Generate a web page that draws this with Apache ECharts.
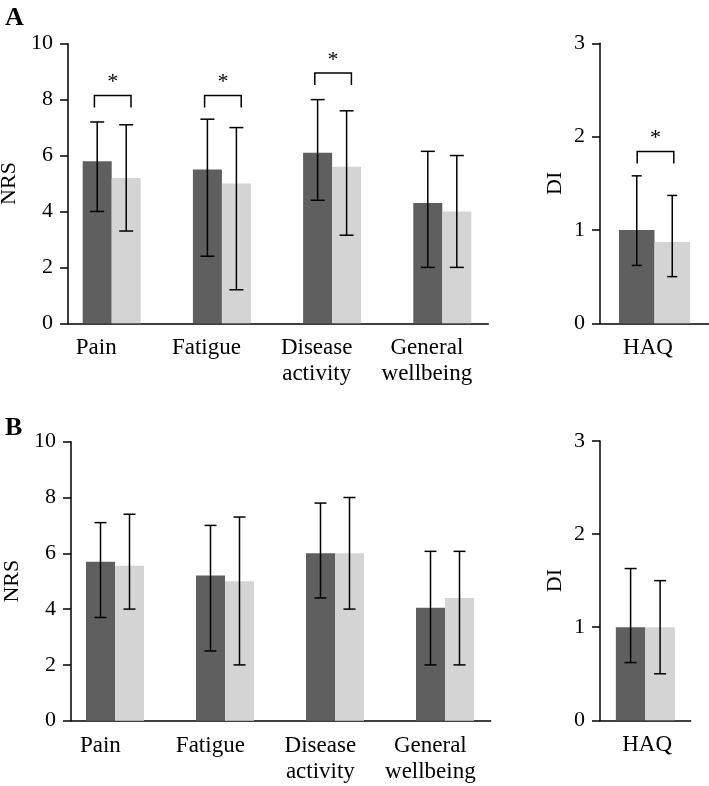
<!DOCTYPE html>
<html>
<head>
<meta charset="utf-8">
<script src="https://cdn.jsdelivr.net/npm/echarts@6/dist/echarts.min.js"></script>
<style>
html,body{margin:0;padding:0;background:#fff;}
#chart{width:709px;height:786px;}
</style>
</head>
<body>
<div id="chart"></div>
<script>
// ---- data ----
const categories = ['Pain', 'Fatigue', 'Disease\nactivity', 'General\nwellbeing'];
const haqCategories = ['HAQ'];
const nrsTicks = [0, 2, 4, 6, 8, 10];
const diTicks = [0, 1, 2, 3];

// Panel A
const aDarkMean  = [5.8, 5.5, 6.1, 4.3];
const aDarkLow   = [4.0, 2.4, 4.4, 2.0];
const aDarkHigh  = [7.2, 7.3, 8.0, 6.15];
const aLightMean = [5.2, 5.0, 5.6, 4.0];
const aLightLow  = [3.3, 1.2, 3.15, 2.0];
const aLightHigh = [7.1, 7.0, 7.6, 6.0];
const aSigLevel  = [8.15, 8.15, 8.95, null];

const aHaqDarkMean  = [1.0];
const aHaqDarkLow   = [0.62];
const aHaqDarkHigh  = [1.58];
const aHaqLightMean = [0.87];
const aHaqLightLow  = [0.5];
const aHaqLightHigh = [1.37];
const aHaqSigLevel  = [1.84];

// Panel B
const bDarkMean  = [5.7, 5.2, 6.0, 4.05];
const bDarkLow   = [3.7, 2.5, 4.4, 2.0];
const bDarkHigh  = [7.1, 7.0, 7.8, 6.07];
const bLightMean = [5.55, 5.0, 6.0, 4.4];
const bLightLow  = [4.0, 2.0, 4.0, 2.0];
const bLightHigh = [7.4, 7.3, 8.0, 6.07];

const bHaqDarkMean  = [1.0];
const bHaqDarkLow   = [0.62];
const bHaqDarkHigh  = [1.63];
const bHaqLightMean = [1.0];
const bHaqLightLow  = [0.5];
const bHaqLightHigh = [1.5];

// ---- styles ----
const DARK = '#5f5f5f';
const LIGHT = '#d4d4d4';
const FONT = '"Liberation Serif", "Times New Roman", serif';

function barGroupSeries(idx, means, lows, highs, side, color, barW, capHalf) {
  return {
    type: 'custom',
    xAxisIndex: idx, yAxisIndex: idx,
    coordinateSystem: 'cartesian2d',
    encode: { x: 0, y: 1 },
    data: means.map((m, i) => [i, m, lows[i], highs[i]]),
    renderItem: function (params, api) {
      const x = api.value(0);
      const base = api.coord([x, 0]);
      const top = api.coord([x, api.value(1)]);
      const lo = api.coord([x, api.value(2)]);
      const hi = api.coord([x, api.value(3)]);
      const cx = base[0] + side * barW / 2;
      const ls = { stroke: '#000', lineWidth: 1.5 };
      return {
        type: 'group',
        children: [
          { type: 'rect', shape: { x: cx - barW / 2, y: top[1], width: barW, height: base[1] - top[1] }, style: { fill: color } },
          { type: 'line', shape: { x1: cx, y1: lo[1], x2: cx, y2: hi[1] }, style: ls },
          { type: 'line', shape: { x1: cx - capHalf, y1: hi[1], x2: cx + capHalf, y2: hi[1] }, style: ls },
          { type: 'line', shape: { x1: cx - capHalf, y1: lo[1], x2: cx + capHalf, y2: lo[1] }, style: ls }
        ]
      };
    },
    z: 2
  };
}

function sigSeries(idx, levels) {
  const data = [];
  levels.forEach((l, i) => { if (l != null) data.push([i, l]); });
  return {
    type: 'custom',
    xAxisIndex: idx, yAxisIndex: idx,
    coordinateSystem: 'cartesian2d',
    encode: { x: 0, y: 1 },
    data: data,
    renderItem: function (params, api) {
      const p = api.coord([api.value(0), api.value(1)]);
      const cx = p[0] + 1, y = p[1], hw = 18.3, leg = 12;
      return {
        type: 'group',
        children: [
          { type: 'polyline', shape: { points: [[cx - hw, y + leg], [cx - hw, y], [cx + hw, y], [cx + hw, y + leg]] },
            style: { stroke: '#000', lineWidth: 1.5, fill: null } },
          { type: 'text', style: { text: '*', x: cx, y: y - 2, align: 'center', verticalAlign: 'bottom',
            font: '22px ' + FONT, fill: '#000' } }
        ]
      };
    },
    z: 3
  };
}

// labelShift: horizontal offset (in axis units) of the category label from the category centre
function xAxisDef(idx, min, max, cats, labelShift) {
  return {
    type: 'value', gridIndex: idx, min: min, max: max,
    axisLine: { show: true, onZero: false, lineStyle: { color: '#000', width: 1.5 } },
    axisTick: { show: false },
    splitLine: { show: false },
    axisLabel: {
      customValues: cats.map((c, i) => i + labelShift),
      formatter: function (v) { return cats[Math.round(v - labelShift)]; },
      fontFamily: FONT, fontSize: 23, color: '#000', lineHeight: 26, margin: 12,
      showMinLabel: true, showMaxLabel: true, hideOverlap: false
    }
  };
}

function yAxisDef(idx, ticks, name, nameGap) {
  return {
    type: 'value', gridIndex: idx,
    min: ticks[0], max: ticks[ticks.length - 1], interval: ticks[1] - ticks[0],
    name: name, nameLocation: 'middle', nameGap: nameGap,
    nameTextStyle: { fontFamily: FONT, fontSize: 22, color: '#000' },
    axisLine: { show: true, onZero: false, lineStyle: { color: '#000', width: 1.5 } },
    axisTick: { show: true, length: 8, lineStyle: { color: '#000', width: 1.5 } },
    splitLine: { show: false },
    axisLabel: { fontFamily: FONT, fontSize: 22, color: '#000', margin: 15 }
  };
}

const chart = echarts.init(document.getElementById('chart'), null, { renderer: 'canvas' });
chart.setOption({
  animation: false,
  backgroundColor: '#fff',
  grid: [
    { left: 68, top: 43.7, width: 420.3, height: 279.6, containLabel: false, outerBoundsMode: 'none' },
    { left: 600, top: 43.3, width: 109, height: 280, containLabel: false, outerBoundsMode: 'none' },
    { left: 71, top: 441.7, width: 419.7, height: 279, containLabel: false, outerBoundsMode: 'none' },
    { left: 600, top: 441, width: 90.7, height: 279.3, containLabel: false, outerBoundsMode: 'none' }
  ],
  xAxis: [
    xAxisDef(0, -0.3966, 3.4174, categories, -0.14),
    xAxisDef(1, -0.5, 0.5, haqCategories, -0.06),
    xAxisDef(2, -0.4, 3.4155, categories, -0.133),
    xAxisDef(3, -0.5, 0.5, haqCategories, 0.02)
  ],
  yAxis: [
    yAxisDef(0, nrsTicks, 'NRS', 39),
    yAxisDef(1, diTicks, 'DI', 34),
    yAxisDef(2, nrsTicks, 'NRS', 40),
    yAxisDef(3, diTicks, 'DI', 34)
  ],
  graphic: [
    { type: 'text', left: 5, top: 5, style: { text: 'A', font: 'bold 26px ' + FONT, fill: '#000' } },
    { type: 'text', left: 5, top: 415, style: { text: 'B', font: 'bold 26px ' + FONT, fill: '#000' } }
  ],
  series: [
    barGroupSeries(0, aDarkMean, aDarkLow, aDarkHigh, -1, DARK, 29, 7),
    barGroupSeries(0, aLightMean, aLightLow, aLightHigh, 1, LIGHT, 29, 7),
    sigSeries(0, aSigLevel),
    barGroupSeries(1, aHaqDarkMean, aHaqDarkLow, aHaqDarkHigh, -1, DARK, 35.5, 5),
    barGroupSeries(1, aHaqLightMean, aHaqLightLow, aHaqLightHigh, 1, LIGHT, 35.5, 5),
    sigSeries(1, aHaqSigLevel),
    barGroupSeries(2, bDarkMean, bDarkLow, bDarkHigh, -1, DARK, 29, 6),
    barGroupSeries(2, bLightMean, bLightLow, bLightHigh, 1, LIGHT, 29, 6),
    barGroupSeries(3, bHaqDarkMean, bHaqDarkLow, bHaqDarkHigh, -1, DARK, 29.5, 6),
    barGroupSeries(3, bHaqLightMean, bHaqLightLow, bHaqLightHigh, 1, LIGHT, 29.5, 6)
  ]
});
</script>
</body>
</html>
